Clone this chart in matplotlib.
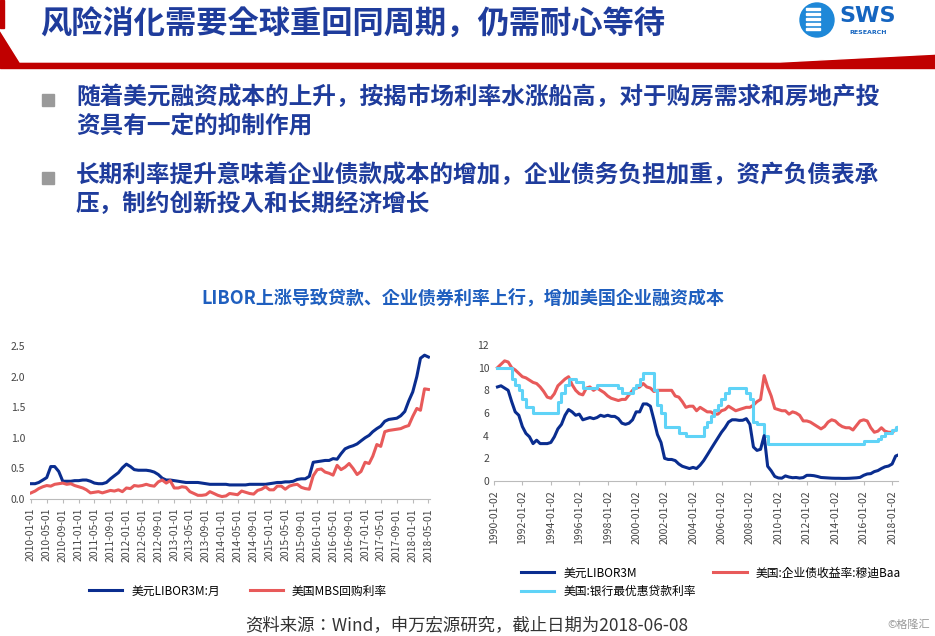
import numpy as np
import pandas as pd
import matplotlib
matplotlib.use("Agg")
import matplotlib.pyplot as plt
from matplotlib import font_manager as fm
from matplotlib.patches import Polygon, Rectangle, Circle
from matplotlib.lines import Line2D

cjk = [f.name for f in fm.fontManager.ttflist if "CJK" in f.name]
pref = [n for n in ["Noto Sans CJK SC", "Noto Sans CJK JP", "Noto Sans CJK TC"] if n in cjk]
fams = (pref or sorted(set(cjk))[:1]) + ["DejaVu Sans"]
plt.rcParams['font.family'] = fams

# ---------------- data ----------------
title = "风险消化需要全球重回同周期，仍需耐心等待"
bullets = ["随着美元融资成本的上升，按揭市场利率水涨船高，对于购房需求和房地产投\n资具有一定的抑制作用",
           "长期利率提升意味着企业债款成本的增加，企业债务负担加重，资产负债表承\n压，制约创新投入和长期经济增长"]
chart_title = "LIBOR上涨导致贷款、企业债券利率上行，增加美国企业融资成本"
source = "资料来源：Wind，申万宏源研究，截止日期为2018-06-08"

left_months = pd.date_range("2010-01-01", "2018-05-01", freq="MS")
libor_m = [.25,.25,.27,.31,.35,.53,.53,.45,.29,.29,.29,.30,
           .30,.31,.31,.29,.26,.25,.25,.27,.33,.38,.43,.51,
           .57,.53,.48,.47,.47,.47,.46,.44,.40,.34,.31,.31,
           .30,.29,.28,.27,.27,.27,.27,.26,.25,.24,.24,.24,
           .24,.24,.23,.23,.23,.23,.23,.24,.24,.24,.24,.24,
           .25,.26,.27,.27,.28,.28,.29,.32,.33,.33,.37,.60,
           .61,.62,.63,.63,.66,.65,.74,.82,.85,.87,.90,.95,
           1.0,1.04,1.10,1.15,1.19,1.27,1.30,1.31,1.32,1.36,1.43,1.60,
           1.75,2.0,2.3,2.35,2.32]
mbs_repo = [.10,.13,.17,.20,.22,.21,.24,.25,.26,.24,.25,.22,
            .20,.18,.15,.10,.11,.12,.10,.12,.14,.13,.15,.12,
            .18,.17,.22,.21,.22,.24,.22,.21,.28,.31,.26,.30,
            .18,.18,.20,.19,.12,.09,.06,.06,.07,.12,.09,.06,
            .04,.05,.09,.08,.07,.13,.11,.09,.08,.14,.16,.20,
            .15,.15,.21,.21,.16,.21,.23,.24,.19,.17,.16,.38,
            .48,.49,.44,.42,.39,.55,.48,.52,.58,.50,.40,.45,
            .60,.58,.70,.89,.86,1.10,1.12,1.13,1.14,1.15,1.18,1.20,
            1.35,1.48,1.45,1.80,1.79]
left_labels = ["美元LIBOR3M:月", "美国MBS回购利率"]

right_q = pd.date_range("1990-01-02", periods=114, freq="QS")
libor_q = [8.3,8.4,8.2,8.0, 7.0,6.1,5.8,4.8, 4.2,3.9,3.3,3.6, 3.3,3.3,3.3,3.4,
           3.9,4.6,5.0,5.8, 6.3,6.1,5.8,5.9, 5.4,5.5,5.6,5.5, 5.6,5.8,5.7,5.8,
           5.7,5.7,5.5,5.1, 5.0,5.1,5.4,6.1, 6.1,6.8,6.8,6.6, 5.4,4.1,3.4,2.0,
           1.9,1.9,1.8,1.5, 1.3,1.2,1.1,1.2, 1.1,1.4,1.8,2.3, 2.8,3.3,3.8,4.3,
           4.7,5.2,5.4,5.4, 5.35,5.36,5.5,5.0, 3.0,2.7,2.8,4.0, 1.3,0.9,0.4,0.27,
           0.25,0.45,0.35,0.29, 0.31,0.26,0.3,0.5, 0.5,0.47,0.4,0.31, 0.29,0.27,0.25,0.24,
           0.24,0.23,0.23,0.24, 0.26,0.28,0.32,0.5, 0.62,0.65,0.83,0.92, 1.1,1.25,1.32,1.5,
           2.2,2.33]
baa_q = [10.0,10.3,10.6,10.5, 10.0,9.8,9.5,9.2, 9.1,8.9,8.7,8.6, 8.3,7.9,7.4,7.3,
         7.7,8.4,8.7,9.0, 9.2,8.5,8.0,7.7, 7.6,8.2,8.3,8.0, 8.2,8.0,7.8,7.5,
         7.3,7.2,7.1,7.2, 7.2,7.6,8.0,8.2, 8.3,8.6,8.3,8.2, 7.9,8.0,8.0,8.0,
         8.0,8.0,7.5,7.4, 7.0,6.5,6.6,6.6, 6.2,6.5,6.3,6.1, 6.1,5.9,5.9,6.2,
         6.3,6.6,6.4,6.2, 6.3,6.4,6.5,6.5, 6.7,7.0,7.2,9.3, 8.3,7.5,6.4,6.3,
         6.2,6.2,5.9,6.1, 6.0,5.8,5.3,5.3, 5.2,5.0,4.8,4.6, 4.8,5.2,5.4,5.3,
         5.0,4.8,4.7,4.7, 4.5,4.9,5.3,5.4, 5.3,4.7,4.3,4.4, 4.7,4.4,4.3,4.3,
         4.5,4.8]
prime_q = [10.0,10.0,10.0,10.0, 9.0,8.5,8.0,7.2, 6.5,6.5,6.0,6.0, 6.0,6.0,6.0,6.0,
           6.0,7.0,7.75,8.5, 9.0,9.0,8.75,8.75, 8.25,8.25,8.25,8.25, 8.5,8.5,8.5,8.5,
           8.5,8.5,8.25,7.75, 7.75,7.75,8.25,8.5, 9.0,9.5,9.5,9.5, 8.0,6.75,6.0,4.75,
           4.75,4.75,4.75,4.25, 4.25,4.0,4.0,4.0, 4.0,4.0,4.75,5.25, 5.75,6.25,6.75,7.25,
           7.75,8.25,8.25,8.25, 8.25,8.25,7.75,7.25, 5.25,5.0,5.0,4.0, 3.25,3.25,3.25,3.25,
           3.25,3.25,3.25,3.25, 3.25,3.25,3.25,3.25, 3.25,3.25,3.25,3.25, 3.25,3.25,3.25,3.25,
           3.25,3.25,3.25,3.25, 3.25,3.25,3.25,3.5, 3.5,3.5,3.5,3.75, 4.0,4.25,4.25,4.5,
           4.75,4.75]
right_labels = ["美元LIBOR3M", "美国:企业债收益率:穆迪Baa", "美国:银行最优惠贷款利率"]

NAVY = "#0a2d8f"
RED = "#e85a5a"
CYAN = "#5fd3f7"
TXT = "#1f3c9c"

W, H = 935, 636
fig = plt.figure(figsize=(W/100, H/100), dpi=100)
bg = fig.add_axes([0, 0, 1, 1])
bg.set_xlim(0, W); bg.set_ylim(H, 0); bg.axis("off")

# header
bg.add_patch(Rectangle((0, 0), W, 68, color="#c00000", zorder=0))
bg.add_patch(Polygon([(6, 0), (W, 0), (W, 54), (780, 62), (20, 62), (0, 30), (0, 0)],
                     closed=True, color="white", zorder=1))
bg.add_patch(Rectangle((0, 0), 4, 28, color="#c00000", zorder=1))
bg.text(40, 25, title, fontsize=22.5, fontweight="bold", color=TXT, va="center", zorder=2)
bg.add_patch(Circle((817, 20), 17, color="#1e88d8", zorder=2))
for k in range(5):
    bg.add_patch(Rectangle((806, 8 + k * 5), 14, 2.2, color="white", zorder=3))
bg.text(839, 16, "SWS", fontsize=16, fontweight="bold", color="#1565c0", va="center", zorder=2,
        family="DejaVu Sans")
bg.text(849, 32, "RESEARCH", fontsize=4.5, fontweight="bold", color="#1565c0", va="center", zorder=2,
        family="DejaVu Sans")

# bullets
for y0, txt in zip([100, 178], bullets):
    bg.add_patch(Rectangle((42, y0 - 6), 12, 12, color="#9a9a9a"))
    bg.text(76, y0 - 15, txt, fontsize=17, fontweight="bold", color=TXT, va="top",
            linespacing=1.25)

bg.text(463, 298, chart_title, fontsize=13, fontweight="bold", color="#1f5fbf",
        ha="center", va="center")
bg.text(467, 625, source, fontsize=12.5, color="#333333", ha="center", va="center")
bg.text(930, 625, "©格隆汇", fontsize=8, color="#999999", ha="right", va="center")

def style(ax):
    for s in ["top", "right", "left"]:
        ax.spines[s].set_visible(False)
    ax.spines["bottom"].set_color("#bbbbbb")
    ax.tick_params(axis="y", length=0, labelsize=7.5, colors="#444444")
    ax.tick_params(axis="x", labelsize=7.5, colors="#444444", rotation=90, length=3, color="#bbbbbb")

# left chart
axl = fig.add_axes([30/W, 1 - 499/H, 400/W, 153/H])
axl.plot(left_months, libor_m, color=NAVY, lw=2.2)
axl.plot(left_months, mbs_repo, color=RED, lw=2.2)
axl.set_ylim(0, 2.5)
axl.set_yticks([0, .5, 1, 1.5, 2, 2.5])
axl.set_yticklabels(["0.0", "0.5", "1.0", "1.5", "2.0", "2.5"])
axl.set_xlim(left_months[0] - pd.Timedelta(days=8), left_months[-1] + pd.Timedelta(days=12))
lt = left_months[::4]
axl.set_xticks(lt)
axl.set_xticklabels([d.strftime("%Y-%m-%d") for d in lt])
style(axl)
axl.legend(handles=[Line2D([], [], color=NAVY, lw=2.2), Line2D([], [], color=RED, lw=2.2)],
           labels=left_labels, loc="upper center", bbox_to_anchor=(0.52, -0.49), ncol=2,
           frameon=False, fontsize=8.5, handlelength=2.8, columnspacing=2.5)

# right chart
axr = fig.add_axes([494/W, 1 - 481/H, 404/W, 136/H])
axr.plot(right_q, baa_q, color=RED, lw=2.2)
axr.plot(right_q, prime_q, color=CYAN, lw=2.2, drawstyle="steps-post")
axr.plot(right_q, libor_q, color=NAVY, lw=2.2)
axr.set_ylim(0, 12)
axr.set_yticks(range(0, 13, 2))
axr.set_xlim(pd.Timestamp("1990-01-02"), pd.Timestamp("2018-06-01"))
rt = pd.to_datetime([f"{y}-01-02" for y in range(1990, 2019, 2)])
axr.set_xticks(rt)
axr.set_xticklabels([d.strftime("%Y-%m-%d") for d in rt])
style(axr)
h = [Line2D([], [], color=NAVY, lw=2.2), Line2D([], [], color=CYAN, lw=2.2), Line2D([], [], color=RED, lw=2.2)]
axr.legend(handles=h, labels=[right_labels[0], right_labels[2], right_labels[1]],
           loc="upper left", bbox_to_anchor=(0.04, -0.55), ncol=2,
           frameon=False, fontsize=8.5, handlelength=2.8, columnspacing=1.5, labelspacing=0.5)

fig.savefig("out.png", dpi=100)
